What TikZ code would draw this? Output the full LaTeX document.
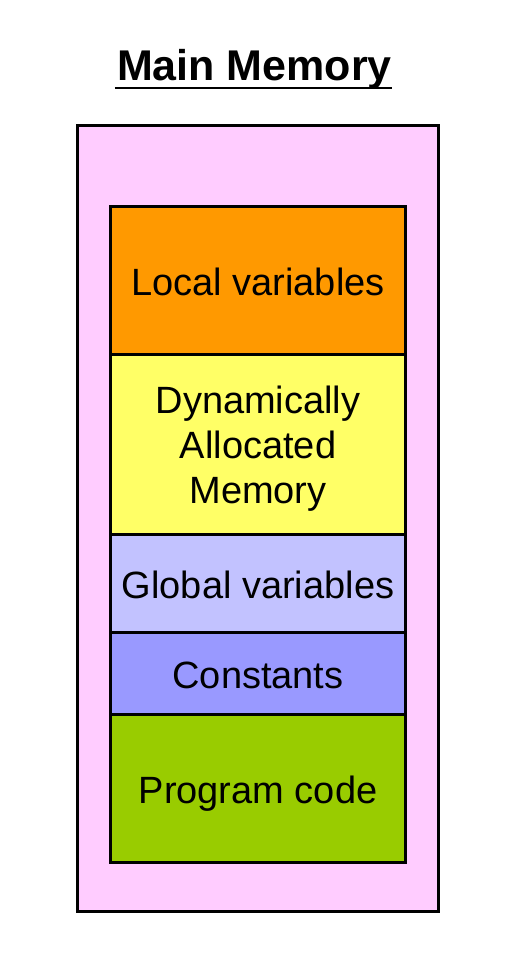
\documentclass[tikz,border=0pt]{standalone}
\usepackage{fontspec}
\setmainfont{Liberation Sans}
\definecolor{memPink}{HTML}{FFCCFF}
\definecolor{memOrange}{HTML}{FF9900}
\definecolor{memYellow}{HTML}{FFFF66}
\definecolor{memLilac}{HTML}{C2C2FF}
\definecolor{memViolet}{HTML}{9999FF}
\definecolor{memGreen}{HTML}{99CC00}
\tikzset{
  segment/.style={draw=black, line width=3pt, rectangle, minimum width=295pt,
    inner sep=0pt, outer sep=0pt, align=center, text height=34pt, text depth=4pt,
    font=\fontsize{38}{45}\selectfont},
  multiline/.style={text height={}, text depth={}},
  frame/.style={draw=black, line width=3pt, fill=memPink, rectangle,
    minimum width=360.5pt, minimum height=786pt, inner sep=0pt},
  heading/.style={font=\fontsize{43}{50}\selectfont\bfseries, inner sep=0pt, anchor=base}
}
\begin{document}
\begin{tikzpicture}[x=1pt,y=-1pt]
  \useasboundingbox (0,0) rectangle (524,959);
  % title with underline
  \node[heading] (title) at (254.5,80) {Main Memory};
  \draw[line width=2.5pt] ([yshift=-8pt,xshift=-2pt]title.base west) -- ([yshift=-8pt]title.base east);
  % memory frame
  \node[frame] (memory) at (257.75,518) {};
  % memory segments, top to bottom
  \node[segment, fill=memOrange, minimum height=147.5pt] (local) at (258,280.25) {Local variables};
  \node[segment, multiline, fill=memYellow, minimum height=180pt] (heap) at (258,444)
    {\rule{0pt}{37pt}Dynamically\\Allocated\\Memory};
  \node[segment, fill=memLilac, minimum height=98pt] (global) at (258,583) {Global variables};
  \node[segment, fill=memViolet, minimum height=82.5pt] (const) at (258,673.25) {Constants};
  \node[segment, fill=memGreen, minimum height=147.5pt] (code) at (258,788.25) {Program code};
\end{tikzpicture}
\end{document}
